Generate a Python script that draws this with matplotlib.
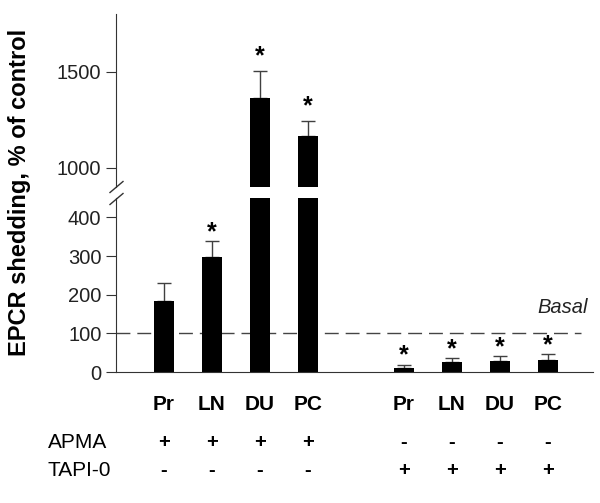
import matplotlib
matplotlib.use("Agg")
import matplotlib.pyplot as plt
from matplotlib.lines import Line2D
import matplotlib.transforms as mtrans

plt.rcParams['font.family'] = ['Liberation Sans', 'DejaVu Sans']

# Data
groups = ['Pr', 'LN', 'DU', 'PC', 'Pr', 'LN', 'DU', 'PC']
shedding = [183, 298, 1365, 1167, 11, 25, 28, 32]
sem = [46, 40, 140, 78, 8, 11, 13, 14]
significant = [False, True, True, True, True, True, True, True]
apma = ['+', '+', '+', '+', '-', '-', '-', '-']
tapi = ['-', '-', '-', '-', '+', '+', '+', '+']
basal = 100

xpos = [1, 2, 3, 4, 6, 7, 8, 9]
W, H = 600, 503

fig = plt.figure(figsize=(6, 5.03), dpi=100)
left = 116 / W
width = (593 - 116) / W
ax_lo = fig.add_axes([left, (H - 372) / H, width, (372 - 198) / H])
ax_hi = fig.add_axes([left, (H - 187) / H, width, (187 - 14) / H])

for ax in (ax_lo, ax_hi):
    ax.bar(xpos, shedding, width=0.42, color='black', zorder=2)
    ax.errorbar(xpos, shedding, yerr=[[0] * len(sem), sem], fmt='none',
                ecolor='#404040', elinewidth=1, capsize=4.7, capthick=1, zorder=1)
    ax.set_xlim(0, 9.94)
    ax.set_xticks([])
    for s in ('top', 'right'):
        ax.spines[s].set_visible(False)
    ax.spines['left'].set_color('#333333')
    ax.tick_params(axis='y', direction='out', length=7, labelsize=14.5,
                   colors='#333333', labelcolor='#222222')

ax_lo.set_ylim(0, 450)
ax_lo.set_yticks([0, 100, 200, 300, 400])
ax_lo.spines['bottom'].set_color('#333333')
ax_hi.set_ylim(900, 1800)
ax_hi.set_yticks([1000, 1500])
ax_hi.spines['bottom'].set_visible(False)

# basal line
ax_lo.plot([0, 9.7], [basal, basal], color='#444444', lw=1, dashes=(10, 5),
           zorder=0, clip_on=False)
ax_lo.text(9.83, 153, 'Basal', style='italic', fontsize=14.5,
           ha='right', va='baseline', color='#222222')

# asterisks
for x, v, e, sig in zip(xpos, shedding, sem, significant):
    if not sig:
        continue
    top = v + e
    if top > 450:
        ax, dy = ax_hi, 1.5
    else:
        ax, dy = ax_lo, -2
    ax.annotate('*', (x, top), xytext=(0, dy), textcoords='offset points',
                ha='center', va='bottom', fontsize=18, fontweight='bold')

# axis break marks
for yc in (187, 199):
    fig.add_artist(Line2D([110 / W, 123 / W], [(H - yc - 5.5) / H, (H - yc + 5.5) / H],
                          color='#333333', lw=1))

# labels under the bars
trans = mtrans.blended_transform_factory(ax_lo.transData, fig.transFigure)
for x, g, a, t in zip(xpos, groups, apma, tapi):
    fig.text(x, 1 - 405 / H, g, transform=trans, ha='center', va='center',
             fontsize=15, fontweight='bold')
    fig.text(x, 1 - 442 / H, a, transform=trans, ha='center', va='center',
             fontsize=14.5, fontweight='bold')
    fig.text(x, 1 - 470 / H, t, transform=trans, ha='center', va='center',
             fontsize=14.5, fontweight='bold')
fig.text(48 / W, 1 - 442 / H, 'APMA', ha='left', va='center', fontsize=15)
fig.text(48 / W, 1 - 470 / H, 'TAPI-0', ha='left', va='center', fontsize=15)

fig.text(20 / W, 1 - 192 / H, 'EPCR shedding, % of control', rotation=90,
         ha='center', va='center', fontsize=17, fontweight='bold')

fig.savefig('out.png', dpi=100)
